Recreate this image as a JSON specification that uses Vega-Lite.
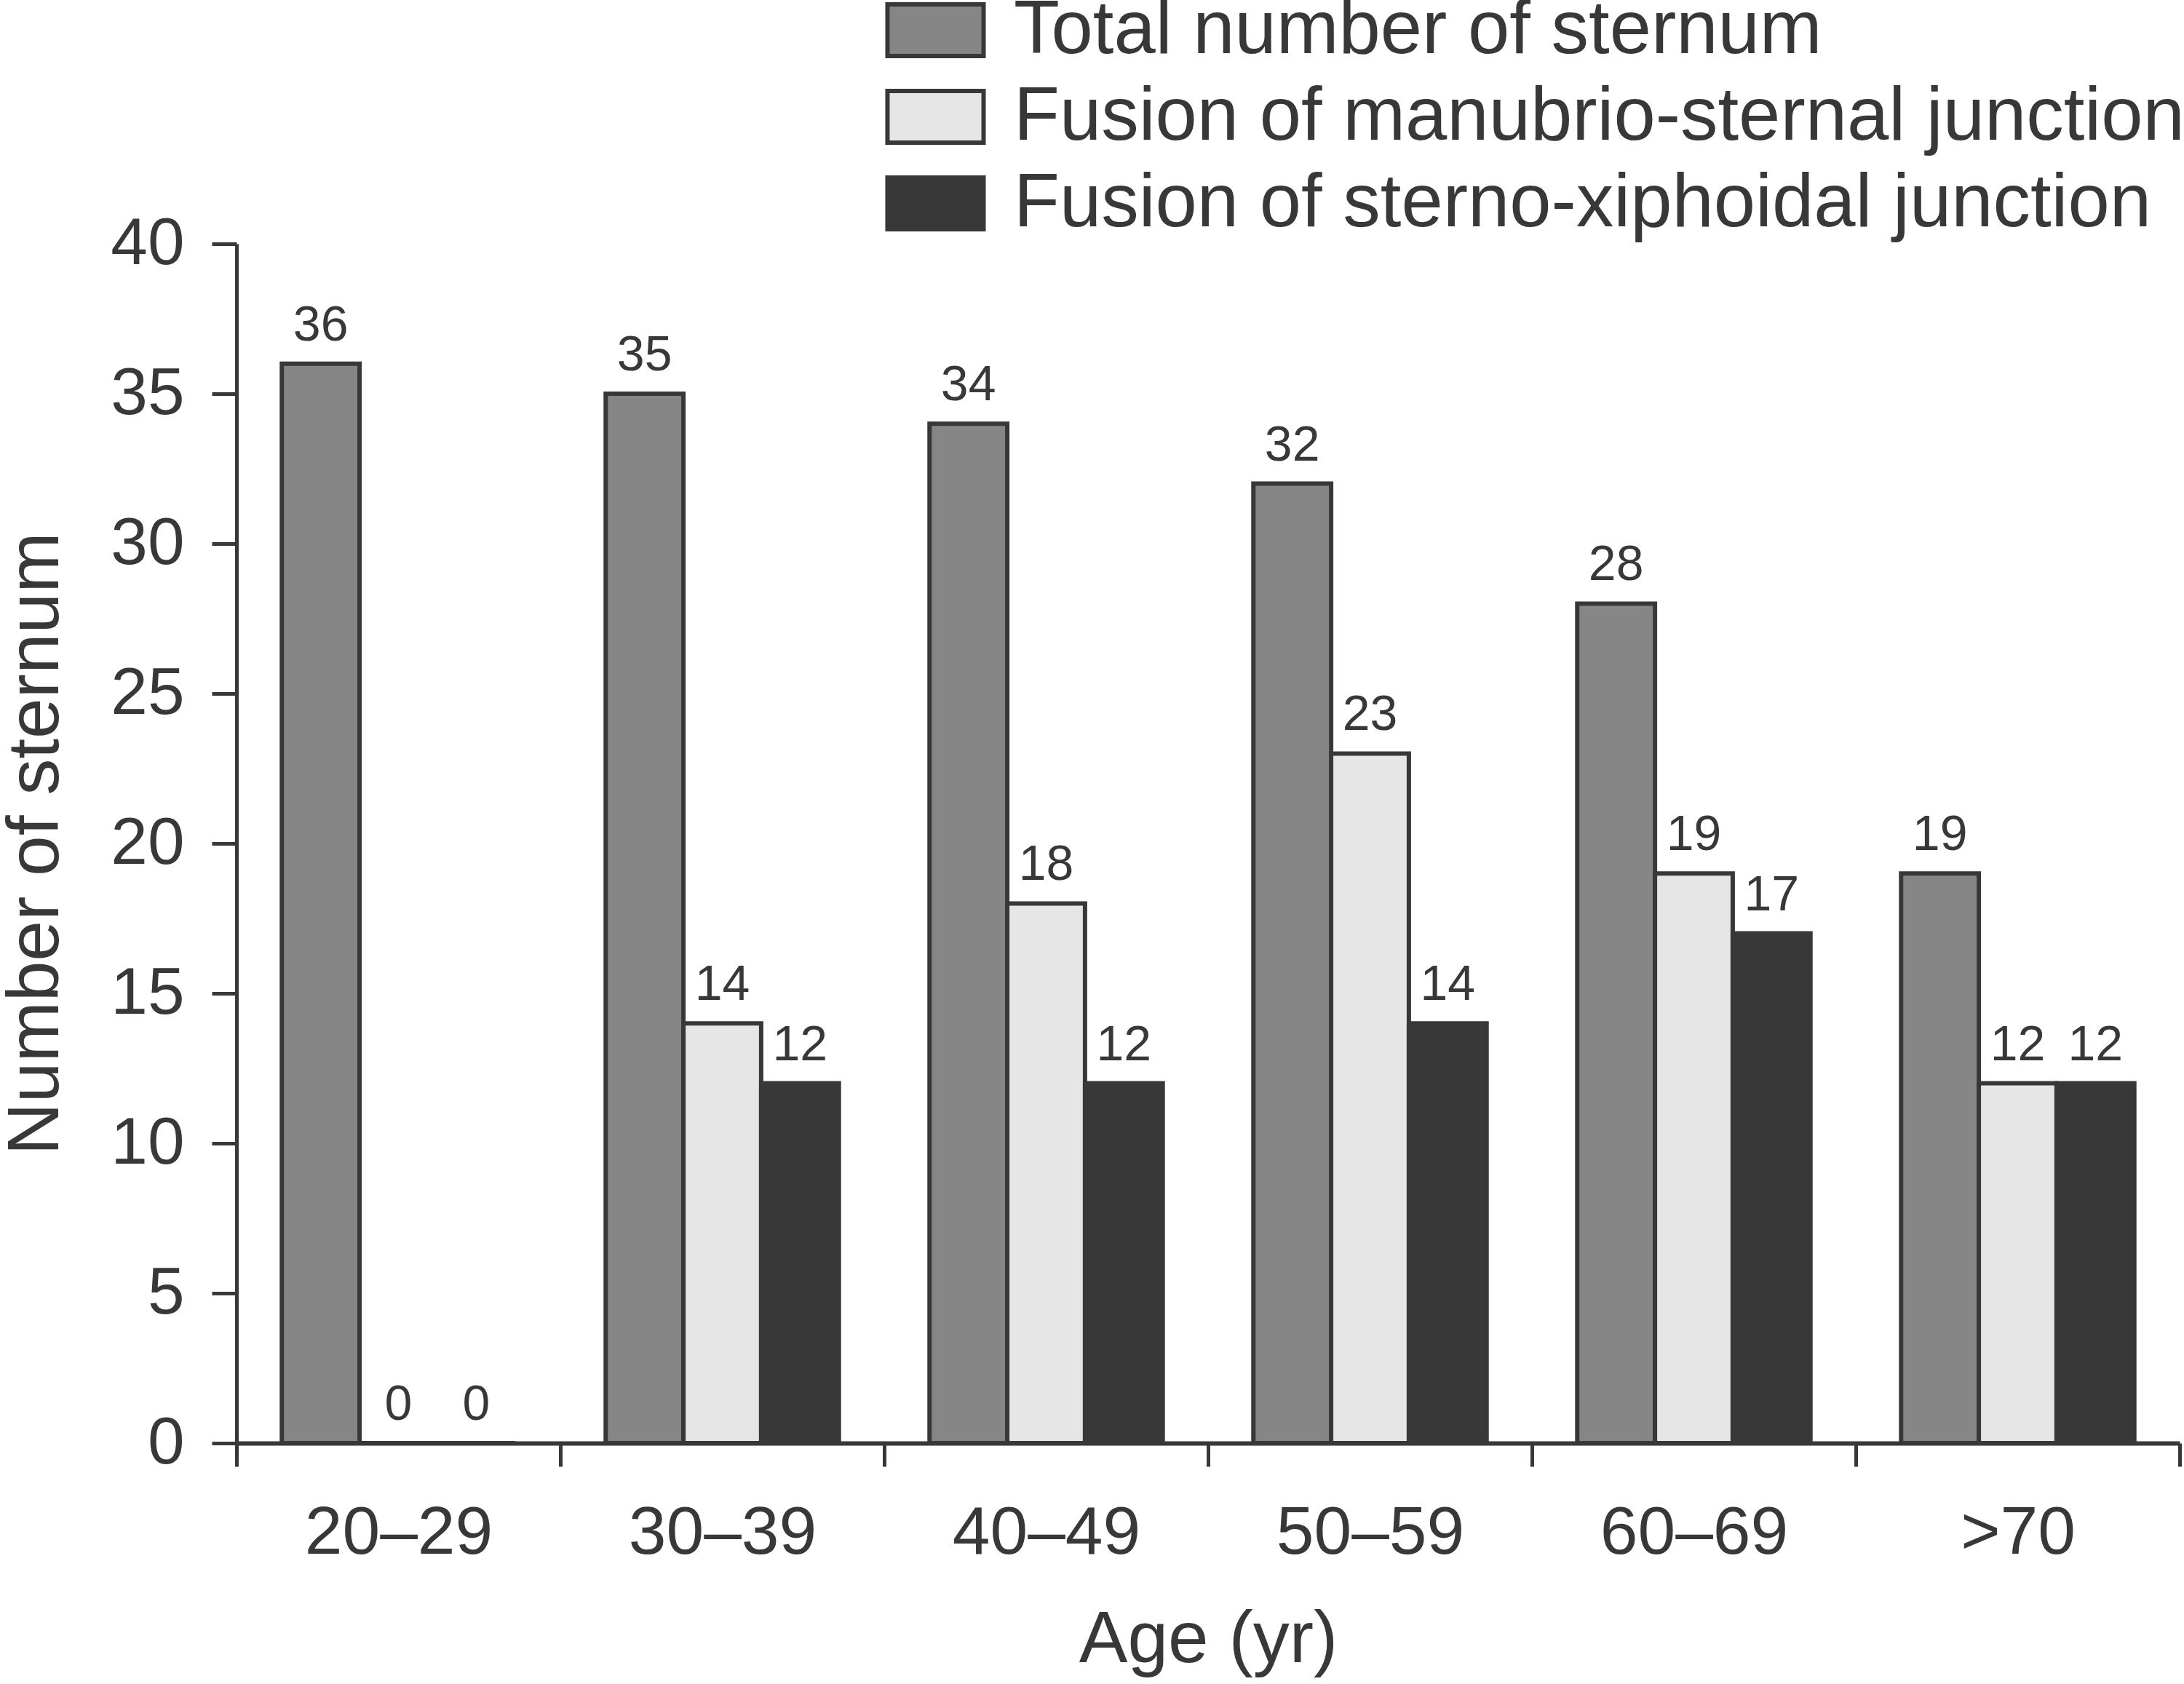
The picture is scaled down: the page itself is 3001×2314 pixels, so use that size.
{
  "$schema": "https://vega.github.io/schema/vega-lite/v6.json",
  "width": 2670,
  "height": 1648,
  "autosize": {"type": "none"},
  "padding": {"left": 325, "top": 335, "right": 6, "bottom": 331},
  "background": "white",
  "config": {
    "font": "Liberation Sans",
    "view": {"stroke": null},
    "axis": {"domainColor": "#383838", "tickColor": "#383838", "labelColor": "#383838", "titleColor": "#383838", "grid": false, "titleFontWeight": "normal"}
  },
  "data": {
    "values": [
      {"age": "20–29", "series": "Total number of sternum", "value": 36},
      {"age": "20–29", "series": "Fusion of manubrio-sternal junction", "value": 0},
      {"age": "20–29", "series": "Fusion of sterno-xiphoidal junction", "value": 0},
      {"age": "30–39", "series": "Total number of sternum", "value": 35},
      {"age": "30–39", "series": "Fusion of manubrio-sternal junction", "value": 14},
      {"age": "30–39", "series": "Fusion of sterno-xiphoidal junction", "value": 12},
      {"age": "40–49", "series": "Total number of sternum", "value": 34},
      {"age": "40–49", "series": "Fusion of manubrio-sternal junction", "value": 18},
      {"age": "40–49", "series": "Fusion of sterno-xiphoidal junction", "value": 12},
      {"age": "50–59", "series": "Total number of sternum", "value": 32},
      {"age": "50–59", "series": "Fusion of manubrio-sternal junction", "value": 23},
      {"age": "50–59", "series": "Fusion of sterno-xiphoidal junction", "value": 14},
      {"age": "60–69", "series": "Total number of sternum", "value": 28},
      {"age": "60–69", "series": "Fusion of manubrio-sternal junction", "value": 19},
      {"age": "60–69", "series": "Fusion of sterno-xiphoidal junction", "value": 17},
      {"age": ">70", "series": "Total number of sternum", "value": 19},
      {"age": ">70", "series": "Fusion of manubrio-sternal junction", "value": 12},
      {"age": ">70", "series": "Fusion of sterno-xiphoidal junction", "value": 12}
    ]
  },
  "encoding": {
    "x": {
      "field": "age", "type": "nominal",
      "sort": ["20–29", "30–39", "40–49", "50–59", "60–69", ">70"],
      "scale": {"paddingInner": 0, "paddingOuter": 0},
      "axis": {
        "title": "Age (yr)", "labelAngle": 0, "tickBand": "extent",
        "domainWidth": 6, "tickWidth": 5, "tickSize": 32,
        "labelFontSize": 93, "labelBaseline": "alphabetic", "labelPadding": 119, "labelLimit": 2000,
        "titleFontSize": 100, "titleBaseline": "alphabetic", "titleX": 1335, "titleY": 300, "titleAlign": "center"
      }
    },
    "xOffset": {
      "field": "series",
      "sort": ["Total number of sternum", "Fusion of manubrio-sternal junction", "Fusion of sterno-xiphoidal junction"],
      "scale": {"paddingInner": 0, "paddingOuter": 0.583}
    },
    "y": {
      "field": "value", "type": "quantitative",
      "scale": {"domain": [0, 40], "nice": false},
      "axis": {
        "title": "Number of sternum", "values": [0, 5, 10, 15, 20, 25, 30, 35, 40],
        "domainWidth": 5, "tickWidth": 5, "tickSize": 34,
        "labelFontSize": 91, "labelPadding": 38,
        "titleFontSize": 100, "titleBaseline": "alphabetic", "titleX": -246, "titleY": 824, "titleAlign": "center", "titleAngle": -90
      }
    }
  },
  "layer": [
    {
      "mark": {"type": "bar", "stroke": "#383838", "strokeWidth": 6},
      "encoding": {
        "color": {
          "field": "series", "type": "nominal",
          "scale": {
            "domain": ["Total number of sternum", "Fusion of manubrio-sternal junction", "Fusion of sterno-xiphoidal junction"],
            "range": ["#868686", "#e6e6e6", "#383838"]
          },
          "legend": {
            "title": null, "orient": "none", "legendX": 909, "legendY": -345,
            "padding": 0, "direction": "vertical",
            "symbolType": "M-1.86,-1H1.86V1H-1.86Z", "symbolSize": 5041,
            "symbolStrokeColor": "#383838", "symbolStrokeWidth": 6, "symbolOpacity": 1,
            "labelFontSize": 103, "labelColor": "#383838", "labelOffset": 56, "labelLimit": 3000,
            "rowPadding": 15
          }
        }
      }
    },
    {
      "mark": {"type": "text", "baseline": "alphabetic", "dy": -32, "fontSize": 68, "color": "#383838"},
      "encoding": {
        "text": {"field": "value", "type": "quantitative"},
        "yOffset": {"condition": {"test": "datum.value === 0", "value": 16}, "value": 0}
      }
    }
  ]
}
